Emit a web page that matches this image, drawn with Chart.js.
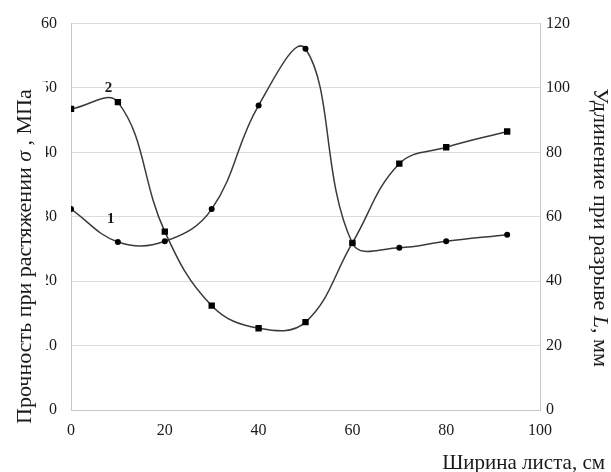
<!DOCTYPE html>
<html>
<head>
<meta charset="utf-8">
<script src="https://cdn.jsdelivr.net/npm/chart.js@4.4.1/dist/chart.umd.min.js"></script>
<style>
  html, body { margin: 0; padding: 0; background: #fff; }
  #wrap { width: 611px; height: 472px; }
</style>
</head>
<body>
<div id="wrap"><canvas id="chart" width="611" height="472"></canvas></div>
<script>
// Sheet width, cm
const widths = [0, 10, 20, 30, 40, 50, 60, 70, 80, 93];
// Curve 1: tensile strength sigma, MPa (left axis)
const strength = [31.2, 26.1, 26.2, 31.2, 47.3, 56.1, 25.9, 25.2, 26.2, 27.2];
// Curve 2: elongation at break L, mm (right axis)
const elongation = [93.5, 95.6, 55.4, 32.4, 25.4, 27.3, 51.9, 76.5, 81.6, 86.5];

const widthTicks = [0, 20, 40, 60, 80, 100];
const strengthTicks = [0, 10, 20, 30, 40, 50, 60];
const elongationTicks = [0, 20, 40, 60, 80, 100, 120];

// curve numbers: [x, value on own axis]
const curveLabels = [
  { text: '1', x: 8.5, y: 29.7, axis: 'yL' },
  { text: '2', x: 8, y: 100, axis: 'yR' }
];

const SERIF = '"Liberation Serif", "Times New Roman", serif';
const lineColor = '#3a3a3a';
const textColor = '#1a1a1a';

function toPoints(xs, ys) {
  return xs.map((x, i) => ({ x: x, y: ys[i] }));
}

function partFont(p, size) {
  return (p.italic ? 'italic ' : '') + size + 'px ' + SERIF;
}

function measureParts(ctx, parts, size) {
  let total = 0;
  parts.forEach(p => {
    ctx.font = partFont(p, size);
    total += ctx.measureText(p.text).width;
  });
  return total;
}

// draws the pieces centred on the current origin, on the baseline
function drawParts(ctx, parts, size) {
  let x = -measureParts(ctx, parts, size) / 2;
  parts.forEach(p => {
    ctx.font = partFont(p, size);
    ctx.fillText(p.text, x, 0);
    x += ctx.measureText(p.text).width;
  });
}

const titlesPlugin = {
  id: 'titles',
  afterDraw(chart) {
    const ctx = chart.ctx;
    const area = chart.chartArea;
    ctx.save();
    ctx.textBaseline = 'alphabetic';

    // left axis title, its box hides the start of the tick labels like in the source
    const leftParts = [
      { text: 'Прочность при растяжении ' },
      { text: 'σ', italic: true },
      { text: ' , МПа' }
    ];
    const lw = measureParts(ctx, leftParts, 22);
    const lcy = area.top + 233;
    ctx.fillStyle = '#fff';
    ctx.fillRect(0, lcy - lw / 2 - 8, 46, lw + 12);
    ctx.fillStyle = textColor;
    ctx.save();
    ctx.translate(31, lcy);
    ctx.rotate(-Math.PI / 2);
    drawParts(ctx, leftParts, 22);
    ctx.restore();

    // right axis title
    const rightParts = [
      { text: 'Удлинение при разрыве ' },
      { text: 'L', italic: true },
      { text: ', мм' }
    ];
    ctx.save();
    ctx.translate(594, area.top + 204);
    ctx.rotate(Math.PI / 2);
    drawParts(ctx, rightParts, 22);
    ctx.restore();

    // x axis title, right aligned near the canvas edge
    ctx.font = '21px ' + SERIF;
    ctx.textAlign = 'right';
    ctx.fillText('Ширина листа, см', chart.width - 6, area.bottom + 59);

    ctx.restore();
  },
  afterDatasetsDraw(chart) {
    const ctx = chart.ctx;
    ctx.save();
    ctx.font = 'bold 15px ' + SERIF;
    ctx.fillStyle = textColor;
    ctx.textAlign = 'center';
    ctx.textBaseline = 'middle';
    curveLabels.forEach(l => {
      const px = chart.scales.x.getPixelForValue(l.x);
      const py = chart.scales[l.axis].getPixelForValue(l.y);
      ctx.fillText(l.text, px, py);
    });
    ctx.restore();
  }
};

new Chart(document.getElementById('chart'), {
  type: 'line',
  data: {
    datasets: [
      {
        label: '1',
        data: toPoints(widths, strength),
        yAxisID: 'yL',
        borderColor: lineColor,
        borderWidth: 1.5,
        pointStyle: 'circle',
        pointRadius: 3,
        pointBackgroundColor: '#000',
        pointBorderWidth: 0,
        tension: 0.4,
        fill: false
      },
      {
        label: '2',
        data: toPoints(widths, elongation),
        yAxisID: 'yR',
        borderColor: lineColor,
        borderWidth: 1.5,
        pointStyle: 'rect',
        pointRadius: 4.5,
        pointBackgroundColor: '#000',
        pointBorderWidth: 0,
        tension: 0.4,
        fill: false
      }
    ]
  },
  options: {
    responsive: false,
    animation: false,
    devicePixelRatio: 1,
    layout: { padding: { top: 16, left: 0, right: 0, bottom: 0 } },
    plugins: {
      legend: { display: false },
      tooltip: { enabled: false }
    },
    scales: {
      x: {
        type: 'linear',
        min: 0,
        max: 100,
        afterBuildTicks: s => { s.ticks = widthTicks.map(v => ({ value: v })); },
        afterFit: s => { s.height = 62; },
        grid: { display: false, drawTicks: false },
        border: { display: true, color: '#c8c8c8', width: 1 },
        ticks: { color: textColor, font: { family: SERIF, size: 16 }, padding: 11, maxRotation: 0 }
      },
      yL: {
        type: 'linear',
        position: 'left',
        min: 0,
        max: 60,
        afterBuildTicks: s => { s.ticks = strengthTicks.map(v => ({ value: v })); },
        afterFit: s => { s.width = 71; },
        grid: { color: '#dcdcdc', drawTicks: false, lineWidth: 1 },
        border: { display: true, color: '#c8c8c8', width: 1 },
        ticks: { color: textColor, font: { family: SERIF, size: 16 }, padding: 14 }
      },
      yR: {
        type: 'linear',
        position: 'right',
        min: 0,
        max: 120,
        afterBuildTicks: s => { s.ticks = elongationTicks.map(v => ({ value: v })); },
        afterFit: s => { s.width = 71; },
        grid: { display: false, drawTicks: false },
        border: { display: true, color: '#c8c8c8', width: 1 },
        ticks: { color: textColor, font: { family: SERIF, size: 16 }, padding: 6 }
      }
    }
  },
  plugins: [titlesPlugin]
});
</script>
</body>
</html>
